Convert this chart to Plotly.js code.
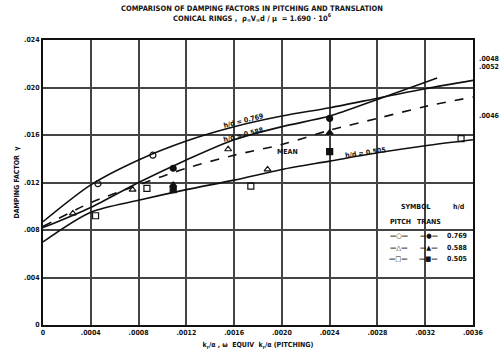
<!DOCTYPE html>
<html><head><meta charset="utf-8">
<script src="https://cdn.plot.ly/plotly-3.0.1.min.js"></script>
<style>html,body{margin:0;padding:0;background:#fff}#c{width:504px;height:359px}</style>
</head><body><div id="c"></div>
<script>
// ---- data ----
const xGrid = [0, 0.0004, 0.0008, 0.0012, 0.0016, 0.0020, 0.0024, 0.0028, 0.0032, 0.0036];
const xTickText = ["0", ".0004", ".0008", ".0012", ".0016", ".0020", ".0024", ".0028", ".0032", ".0036"];
const yTicks = [0, 0.004, 0.008, 0.012, 0.016, 0.020, 0.024];
const yTickText = ["0", ".004", ".008", ".012", ".016", ".020", ".024"];

// faired curves
const curveA_x = [0, 0.0004, 0.0008, 0.0012, 0.0016, 0.0020, 0.0024, 0.0028, 0.0032, 0.0036];
const curveA_y = [0.0087, 0.0118, 0.0139, 0.0155, 0.0167, 0.0176, 0.0183, 0.0191, 0.0199, 0.0206]; // h/d = 0.769
const curveB_x = [0, 0.0004, 0.0008, 0.0012, 0.0016, 0.0020, 0.0024, 0.0028, 0.0033];
const curveB_y = [0.0082, 0.0099, 0.0120, 0.0139, 0.0156, 0.0167, 0.0176, 0.0190, 0.0208]; // h/d = 0.588
const curveC_x = [0, 0.0004, 0.0008, 0.0012, 0.0016, 0.0020, 0.0024, 0.0028, 0.0032, 0.0036];
const curveC_y = [0.0070, 0.0095, 0.0105, 0.0114, 0.0122, 0.0131, 0.0138, 0.0145, 0.0151, 0.0156]; // h/d = 0.505
const mean_x = [0, 0.0004, 0.0008, 0.0012, 0.0016, 0.0020, 0.0024, 0.0028, 0.0032, 0.0036];
const mean_y = [0.0083, 0.0103, 0.0118, 0.0132, 0.0143, 0.0152, 0.0164, 0.0174, 0.0184, 0.0192];

// pitching (open symbols)
const pitch769_x = [0.00046, 0.00092];
const pitch769_y = [0.0119, 0.0143];
const pitch588_x = [0.00025, 0.00075, 0.00155, 0.00188];
const pitch588_y = [0.0094, 0.0114, 0.0148, 0.0131];
const pitch505_x = [0.00044, 0.00087, 0.00174, 0.0035];
const pitch505_y = [0.0092, 0.0115, 0.0117, 0.0157];
// translation (filled symbols)
const trans769_x = [0.00109, 0.0024];
const trans769_y = [0.0132, 0.0174];
const trans588_x = [0.00109, 0.0024];
const trans588_y = [0.0118, 0.0162];
const trans505_x = [0.00109, 0.0024];
const trans505_y = [0.0114, 0.0146];

const FONT = "DejaVu Sans Condensed";
const ink = "#111";

function line(x, y, dash) {
  return {x, y, type: "scatter", mode: "lines", line: {color: ink, width: 1.6, dash: dash || "solid", shape: "spline", smoothing: 0.8}, hoverinfo: "skip"};
}
function pts(x, y, sym) {
  return {x, y, type: "scatter", mode: "markers", marker: {symbol: sym, size: 6, color: ink, line: {color: ink, width: 1.2}}, hoverinfo: "skip"};
}

const traces = [
  line(curveA_x, curveA_y),
  line(curveB_x, curveB_y),
  line(curveC_x, curveC_y),
  line(mean_x, mean_y, "dash"),
  pts(pitch769_x, pitch769_y, "circle-open"),
  pts(pitch588_x, pitch588_y, "triangle-up-open"),
  pts(pitch505_x, pitch505_y, "square-open"),
  pts(trans769_x, trans769_y, "circle"),
  pts(trans588_x, trans588_y, "triangle-up"),
  pts(trans505_x, trans505_y, "square")
];

const small = {family: FONT, size: 7, color: ink, weight: "bold"};
const ann = (x, y, text, extra) => Object.assign({x, y, xref: "x", yref: "y", text, showarrow: false, font: small}, extra || {});
const pann = (x, y, text, extra) => Object.assign({x, y, xref: "paper", yref: "paper", text, showarrow: false, font: small}, extra || {});

const layout = {
  width: 504, height: 359,
  margin: {l: 43, r: 31, t: 40, b: 34},
  paper_bgcolor: "#fff", plot_bgcolor: "#fff",
  showlegend: false,
  title: {
    text: "COMPARISON OF DAMPING FACTORS IN PITCHING AND TRANSLATION<br>CONICAL RINGS ,  ρ<sub>∞</sub>V<sub>∞</sub>d / μ  = 1.690 · 10<sup>6</sup>",
    font: {family: FONT, size: 7.5, color: ink, weight: "bold"},
    x: 0.5, xanchor: "center", y: 0.97, yanchor: "top"
  },
  xaxis: {
    range: [0, 0.0036], tickvals: xGrid, ticktext: xTickText,
    showgrid: true, gridcolor: "#444", gridwidth: 2,
    showline: true, linecolor: ink, linewidth: 2, mirror: true,
    ticks: "", zeroline: false,
    tickfont: small,
    title: {text: "k<sub>r</sub>/α , ω  EQUIV  k<sub>r</sub>/α (PITCHING)", font: small, standoff: 6}
  },
  yaxis: {
    range: [0, 0.024], tickvals: yTicks, ticktext: yTickText,
    showgrid: true, gridcolor: "#444", gridwidth: 2,
    showline: true, linecolor: ink, linewidth: 2, mirror: true,
    ticks: "", zeroline: false,
    tickfont: small,
    title: {text: "DAMPING FACTOR  γ", font: small, standoff: 4}
  },
  annotations: [
    ann(0.00168, 0.0172, "h/d = 0.769", {textangle: -14}),
    ann(0.00168, 0.0160, "h/d = 0.588", {textangle: -14}),
    ann(0.00205, 0.0146, "MEAN"),
    ann(0.00270, 0.0145, "h/d = 0.505", {textangle: -8}),
    ann(0.00312, 0.0099, "SYMBOL"),
    ann(0.00348, 0.0099, "h/d"),
    ann(0.00299, 0.0087, "PITCH"),
    ann(0.00323, 0.0087, "TRANS"),
    ann(0.00298, 0.0075, "—○—"),
    ann(0.00323, 0.0075, "—●—"),
    ann(0.00347, 0.0075, "0.769"),
    ann(0.00298, 0.0065, "—△—"),
    ann(0.00323, 0.0065, "—▲—"),
    ann(0.00347, 0.0065, "0.588"),
    ann(0.00298, 0.0056, "—□—"),
    ann(0.00323, 0.0056, "—■—"),
    ann(0.00347, 0.0056, "0.505"),
    pann(1.01, 0.955, ".0048", {xanchor: "left"}),
    pann(1.01, 0.925, ".0052", {xanchor: "left"}),
    pann(1.01, 0.755, ".0046", {xanchor: "left"})
  ]
};

Plotly.newPlot("c", traces, layout, {staticPlot: true, displayModeBar: false});
</script></body></html>
